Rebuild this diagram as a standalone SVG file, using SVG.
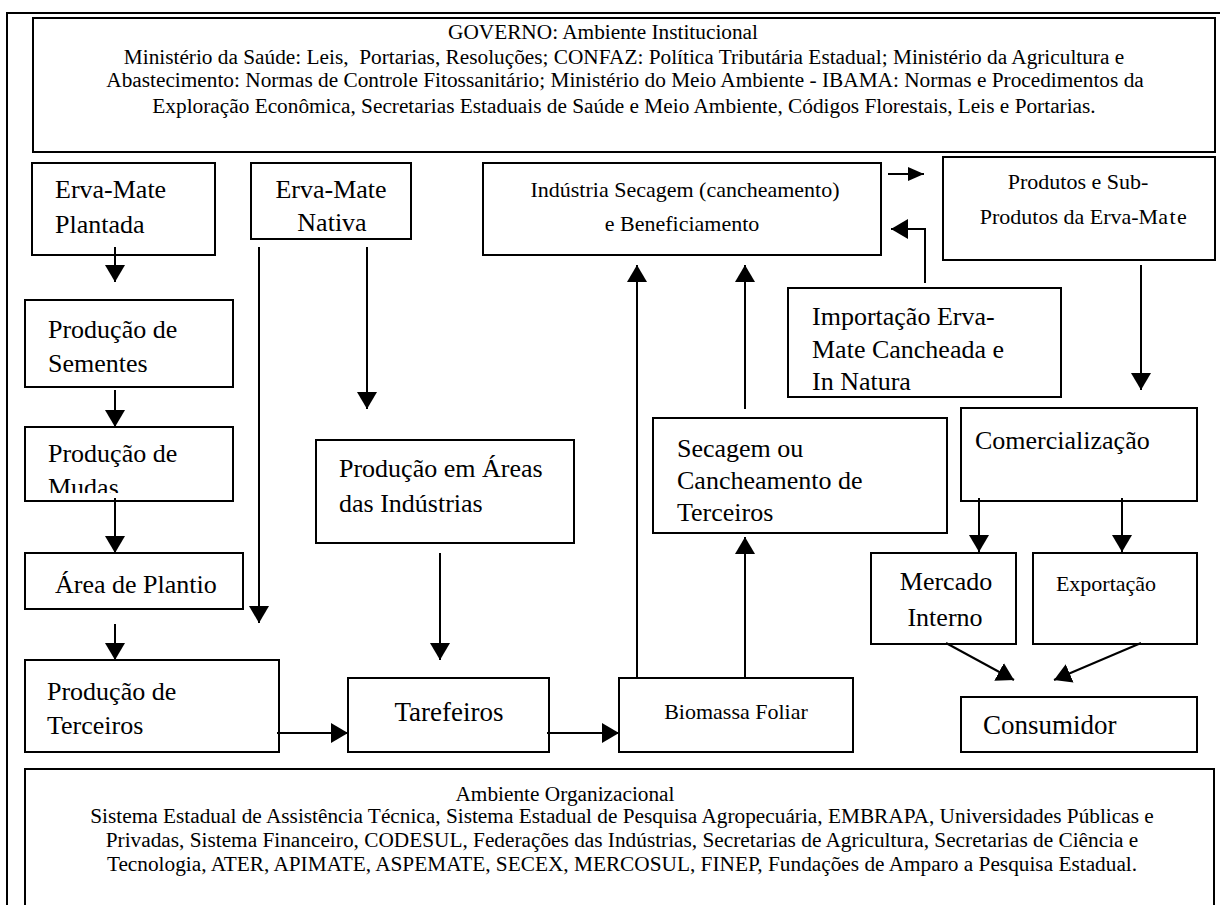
<svg xmlns="http://www.w3.org/2000/svg" width="1220" height="905" viewBox="0 0 1220 905">
<style>
.box{fill:#fff;stroke:#000;stroke-width:2}
.t{font-family:"Liberation Serif","Times New Roman",serif;fill:#000}
.s21{font-size:21.3px}
.s22{font-size:22px}
.s26{font-size:26px}
.s27{font-size:27px}
.m{text-anchor:middle}
.ln{fill:none;stroke:#000;stroke-width:2}
</style>
<defs>
<marker id="ah" viewBox="0 0 17 20" refX="17" refY="10" markerWidth="17" markerHeight="20" markerUnits="userSpaceOnUse" orient="auto"><path d="M0,0 L17,10 L0,20 Z" fill="#000"/></marker>
<marker id="ahs" viewBox="0 0 16 14" refX="16" refY="7" markerWidth="16" markerHeight="14" markerUnits="userSpaceOnUse" orient="auto"><path d="M0,0 L16,7 L0,14 Z" fill="#000"/></marker>
<clipPath id="clipMudas"><rect x="26" y="428" width="206" height="65"/></clipPath>
</defs>
<rect width="1220" height="905" fill="#fff"/>
<path d="M7,905 V13 H1220" class="ln"/>

<g id="governo">
<rect class="box" x="33" y="18" width="1182" height="134"/>
<text class="t s21 m" x="603" y="39">GOVERNO: Ambiente Institucional</text>
<text class="t s21 m" x="624" y="64" xml:space="preserve">Ministério da Saúde: Leis,  Portarias, Resoluções; CONFAZ: Política Tributária Estadual; Ministério da Agricultura e</text>
<text class="t s21 m" x="625" y="87">Abastecimento: Normas de Controle Fitossanitário; Ministério do Meio Ambiente - IBAMA: Normas e Procedimentos da</text>
<text class="t s21 m" x="624" y="113">Exploração Econômica, Secretarias Estaduais de Saúde e Meio Ambiente, Códigos Florestais, Leis e Portarias.</text>
</g>

<g id="plantada">
<rect class="box" x="32" y="163" width="183" height="92"/>
<text class="t s26" x="55" y="198">Erva-Mate</text>
<text class="t s26" x="55" y="233">Plantada</text>
</g>

<g id="nativa">
<rect class="box" x="251" y="163" width="160" height="76"/>
<text class="t s26 m" x="331" y="198">Erva-Mate</text>
<text class="t s26 m" x="332" y="231">Nativa</text>
</g>

<g id="industria">
<rect class="box" x="483" y="163" width="398" height="92"/>
<text class="t s22 m" x="685" y="197">Indústria Secagem (cancheamento)</text>
<text class="t s22 m" x="682" y="231">e Beneficiamento</text>
</g>

<g id="produtos">
<rect class="box" x="943" y="157" width="272" height="103"/>
<text class="t s22 m" x="1078" y="189">Produtos e Sub-</text>
<text class="t s22 m" x="1084" y="224">Produtos da Erva-M<tspan letter-spacing="1.5">ate</tspan></text>
</g>

<g id="sementes">
<rect class="box" x="25" y="300" width="208" height="87"/>
<text class="t s26" x="48" y="338">Produção de</text>
<text class="t s26" x="48" y="372">Sementes</text>
</g>

<g id="mudas">
<rect class="box" x="25" y="427" width="208" height="74"/>
<g clip-path="url(#clipMudas)">
<text class="t s26" x="48" y="462">Produção de</text>
<text class="t s26" x="48" y="496">Mudas</text>
</g>
</g>

<g id="importacao">
<rect class="box" x="788" y="288" width="273" height="109"/>
<text class="t s26" x="812" y="325">Importação Erva-</text>
<text class="t s26" x="812" y="358">Mate Cancheada e</text>
<text class="t s26" x="812" y="390">In Natura</text>
</g>

<g id="areas-industrias">
<rect class="box" x="316" y="440" width="258" height="103"/>
<text class="t s26" x="339" y="477">Produção em Áreas</text>
<text class="t s26" x="339" y="512">das Indústrias</text>
</g>

<g id="secagem">
<rect class="box" x="653" y="418" width="294" height="115"/>
<text class="t s26" x="677" y="457">Secagem ou</text>
<text class="t s26" x="677" y="489">Cancheamento de</text>
<text class="t s26" x="677" y="521">Terceiros</text>
</g>

<g id="comercializacao">
<rect class="box" x="961" y="408" width="236" height="93"/>
<text class="t s26" x="975" y="449">Comercialização</text>
</g>

<g id="area-plantio">
<rect class="box" x="25" y="553" width="218" height="56"/>
<text class="t s26" x="55" y="593">Área de Plantio</text>
</g>

<g id="mercado">
<rect class="box" x="871" y="553" width="145" height="91"/>
<text class="t s26 m" x="946" y="590">Mercado</text>
<text class="t s26 m" x="945" y="626">Interno</text>
</g>

<g id="exportacao">
<rect class="box" x="1033" y="553" width="164" height="91"/>
<text class="t s22 m" x="1106" y="591">Exportação</text>
</g>

<g id="terceiros">
<rect class="box" x="25" y="660" width="254" height="92"/>
<text class="t s26" x="47" y="700">Produção de</text>
<text class="t s26" x="47" y="734">Terceiros</text>
</g>

<g id="tarefeiros">
<rect class="box" x="348" y="678" width="201" height="74"/>
<text class="t s27 m" x="449" y="721">Tarefeiros</text>
</g>

<g id="biomassa">
<rect class="box" x="619" y="678" width="234" height="74"/>
<text class="t s22 m" x="736" y="719">Biomassa Foliar</text>
</g>

<g id="consumidor">
<rect class="box" x="961" y="697" width="236" height="55"/>
<text class="t s27" x="983" y="734">Consumidor</text>
</g>

<g id="organizacional">
<rect class="box" x="25" y="769" width="1189" height="150"/>
<text class="t s21 m" x="565" y="801">Ambiente Organizacional</text>
<text class="t s21 m" x="622" y="823">Sistema Estadual de Assistência Técnica, Sistema Estadual de Pesquisa Agropecuária, EMBRAPA, Universidades Públicas e</text>
<text class="t s21 m" x="622" y="847">Privadas, Sistema Financeiro, CODESUL, Federações das Indústrias, Secretarias de Agricultura, Secretarias de Ciência e</text>
<text class="t s21 m" x="622" y="871">Tecnologia, ATER, APIMATE, ASPEMATE, SECEX, MERCOSUL, FINEP, Fundações de Amparo a Pesquisa Estadual.</text>
</g>

<g id="connectors">
<path class="ln" d="M115,247 V282" marker-end="url(#ah)"/>
<path class="ln" d="M115,390 V427" marker-end="url(#ah)"/>
<path class="ln" d="M115,498 V553" marker-end="url(#ah)"/>
<path class="ln" d="M115,624 V660" marker-end="url(#ah)"/>
<path class="ln" d="M259,247 V623" marker-end="url(#ah)"/>
<path class="ln" d="M367,247 V409" marker-end="url(#ah)"/>
<path class="ln" d="M440,553 V660" marker-end="url(#ah)"/>
<path class="ln" d="M277,733 H348" marker-end="url(#ah)"/>
<path class="ln" d="M547,733 H619" marker-end="url(#ah)"/>
<path class="ln" d="M637,678 V265" marker-end="url(#ah)"/>
<path class="ln" d="M745,409 V265" marker-end="url(#ah)"/>
<path class="ln" d="M745,678 V537" marker-end="url(#ah)"/>
<path class="ln" d="M925,283 V229 H891" marker-end="url(#ah)"/>
<path class="ln" d="M888,174 H924" marker-end="url(#ahs)"/>
<path class="ln" d="M1141,265 V390" marker-end="url(#ah)"/>
<path class="ln" d="M979,498 V552" marker-end="url(#ah)"/>
<path class="ln" d="M1122,498 V552" marker-end="url(#ah)"/>
<path class="ln" d="M946,643 L1014,680" marker-end="url(#ah)"/>
<path class="ln" d="M1141,643 L1054,680" marker-end="url(#ah)"/>
</g>
</svg>
